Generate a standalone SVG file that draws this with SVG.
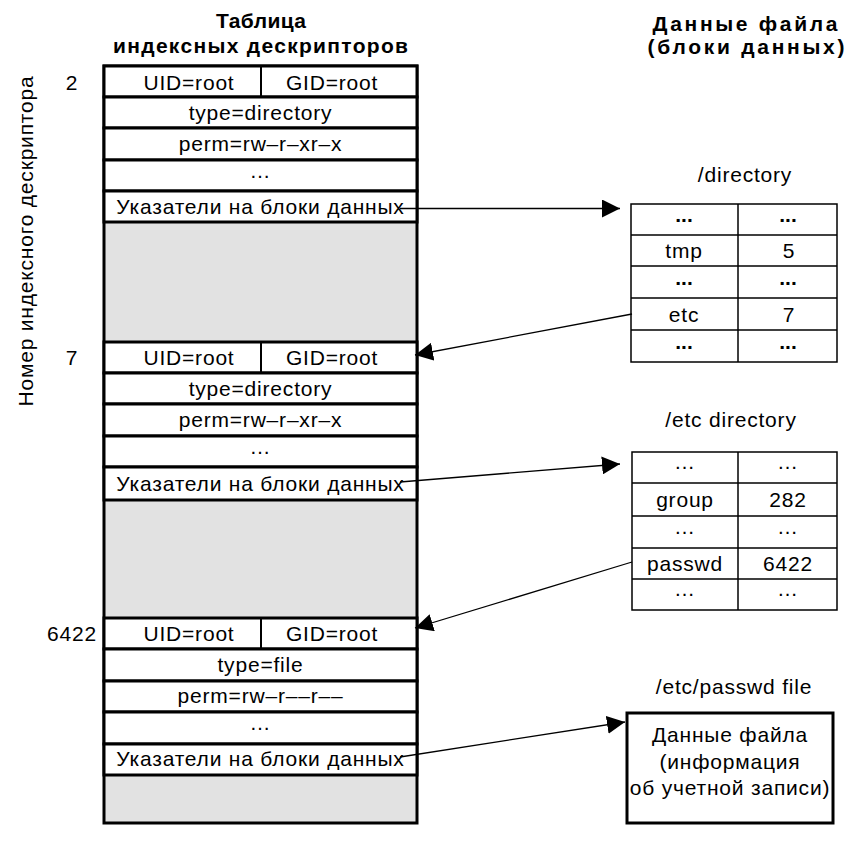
<svg xmlns="http://www.w3.org/2000/svg" width="861" height="845" viewBox="0 0 861 845">
<defs>
<style>
.t{font-family:"Liberation Sans",Arial,sans-serif;font-size:21px;letter-spacing:0.8px;fill:#000;text-anchor:middle}
.h{font-weight:bold;font-size:21px;letter-spacing:0}
.b{font-weight:bold}
.r{text-anchor:end}
.row{fill:#fff;stroke:#000;stroke-width:3}
.gray{fill:#e2e2e2;stroke:#000;stroke-width:3}
.thin{fill:#fff;stroke:#000;stroke-width:1.5}
.ln{stroke:#000;stroke-width:1.5}
.ln2{stroke:#000;stroke-width:2}
.box{fill:#fff;stroke:#000;stroke-width:3}
.conn{stroke:#000;stroke-width:1.3;fill:none;marker-end:url(#arr)}
</style>
<marker id="arr" markerUnits="userSpaceOnUse" markerWidth="18" markerHeight="18" refX="18" refY="9" orient="auto" viewBox="0 0 18 18">
<path d="M0,0 L18,9 L0,18 z" fill="#000"/>
</marker>
</defs>
<rect width="861" height="845" fill="#fff"/>

<g id="headings">
<text class="t h" x="261" y="28" textLength="90" lengthAdjust="spacing">Таблица</text>
<text class="t h" x="260.5" y="53" textLength="295" lengthAdjust="spacing">индексных дескрипторов</text>
<text class="t h" x="745" y="31" textLength="185" lengthAdjust="spacing">Данные файла</text>
<text class="t h" x="746" y="54" textLength="197" lengthAdjust="spacing">(блоки данных)</text>
<text class="t" transform="translate(33,241) rotate(-90)">Номер индексного дескриптора</text>
</g>

<g id="inode-table">
<rect class="gray" x="104" y="66" width="313" height="757"/>
</g>

<g id="inode-2">
<rect class="row" x="104" y="66" width="313" height="31"/>
<rect class="row" x="104" y="97" width="313" height="31"/>
<rect class="row" x="104" y="128" width="313" height="32"/>
<rect class="row" x="104" y="160" width="313" height="31"/>
<rect class="row" x="104" y="191" width="313" height="31"/>
<line class="ln2" x1="261" y1="66" x2="261" y2="97"/>
<text class="t" x="72" y="89.5">2</text>
<text class="t" x="189" y="89.5">UID=root</text>
<text class="t" x="332" y="89.5">GID=root</text>
<text class="t" x="260.5" y="120">type=directory</text>
<text class="t" x="260.5" y="151">perm=rw–r–xr–x</text>
<text class="t" x="260.5" y="178">…</text>
<text class="t" x="260.5" y="213.5">Указатели на блоки данных</text>
</g>

<g id="inode-7">
<rect class="row" x="104" y="342" width="313" height="31"/>
<rect class="row" x="104" y="373" width="313" height="31"/>
<rect class="row" x="104" y="404" width="313" height="32"/>
<rect class="row" x="104" y="436" width="313" height="31"/>
<rect class="row" x="104" y="467" width="313" height="33"/>
<line class="ln2" x1="261" y1="342" x2="261" y2="373"/>
<text class="t" x="72" y="365">7</text>
<text class="t" x="189" y="365">UID=root</text>
<text class="t" x="332" y="365">GID=root</text>
<text class="t" x="260.5" y="396">type=directory</text>
<text class="t" x="260.5" y="427">perm=rw–r–xr–x</text>
<text class="t" x="260.5" y="454">…</text>
<text class="t" x="260.5" y="491">Указатели на блоки данных</text>
</g>

<g id="inode-6422">
<rect class="row" x="104" y="618" width="313" height="31"/>
<rect class="row" x="104" y="649" width="313" height="32"/>
<rect class="row" x="104" y="681" width="313" height="31"/>
<rect class="row" x="104" y="712" width="313" height="32"/>
<rect class="row" x="104" y="744" width="313" height="31"/>
<line class="ln2" x1="261" y1="618" x2="261" y2="649"/>
<text class="t r" x="97" y="641">6422</text>
<text class="t" x="189" y="641">UID=root</text>
<text class="t" x="332" y="641">GID=root</text>
<text class="t" x="260.5" y="672">type=file</text>
<text class="t" x="260.5" y="703">perm=rw–r––r––</text>
<text class="t" x="260.5" y="730">…</text>
<text class="t" x="260.5" y="766">Указатели на блоки данных</text>
</g>

<g id="dir-root">
<text class="t" x="745" y="182">/directory</text>
<rect class="thin" x="631" y="204" width="206" height="158"/>
<line class="ln" x1="738" y1="204" x2="738" y2="362"/>
<line class="ln" x1="631" y1="235" x2="837" y2="235"/>
<line class="ln" x1="631" y1="266" x2="837" y2="266"/>
<line class="ln" x1="631" y1="298" x2="837" y2="298"/>
<line class="ln" x1="631" y1="330" x2="837" y2="330"/>
<text class="t b" x="684" y="222" style="letter-spacing:0">...</text>
<text class="t b" x="788" y="222" style="letter-spacing:0">...</text>
<text class="t" x="684" y="258">tmp</text>
<text class="t" x="789" y="258">5</text>
<text class="t b" x="684" y="284.5" style="letter-spacing:0">...</text>
<text class="t b" x="788" y="284.5" style="letter-spacing:0">...</text>
<text class="t" x="684" y="321.5">etc</text>
<text class="t" x="789" y="321.5">7</text>
<text class="t b" x="684" y="348.5" style="letter-spacing:0">...</text>
<text class="t b" x="788" y="348.5" style="letter-spacing:0">...</text>
</g>

<g id="dir-etc">
<text class="t" x="731" y="427">/etc directory</text>
<rect class="thin" x="632" y="452" width="205" height="158"/>
<line class="ln" x1="738" y1="452" x2="738" y2="610"/>
<line class="ln" x1="632" y1="483" x2="837" y2="483"/>
<line class="ln" x1="632" y1="516" x2="837" y2="516"/>
<line class="ln" x1="632" y1="548" x2="837" y2="548"/>
<line class="ln" x1="632" y1="579" x2="837" y2="579"/>
<text class="t" x="685" y="469">…</text>
<text class="t" x="788" y="469">…</text>
<text class="t" x="685" y="507">group</text>
<text class="t" x="788" y="507">282</text>
<text class="t" x="685" y="533.5">…</text>
<text class="t" x="788" y="533.5">…</text>
<text class="t" x="685" y="571">passwd</text>
<text class="t" x="788" y="571">6422</text>
<text class="t" x="685" y="596">…</text>
<text class="t" x="788" y="596">…</text>
</g>

<g id="file-passwd">
<text class="t" x="734" y="694">/etc/passwd file</text>
<rect class="box" x="627" y="713" width="206" height="110"/>
<text class="t" x="730" y="742">Данные файла</text>
<text class="t" x="730" y="768.5">(информация</text>
<text class="t" x="730" y="795">об учетной записи)</text>
</g>

<g id="connectors">
<path class="conn" d="M400,208.5 L620,208.5"/>
<path class="conn" d="M632,314 L415,355"/>
<path class="conn" d="M400,482 L620,464"/>
<path class="conn" d="M632,562 L415,628"/>
<path class="conn" d="M400,757 L625,722"/>
</g>
</svg>
